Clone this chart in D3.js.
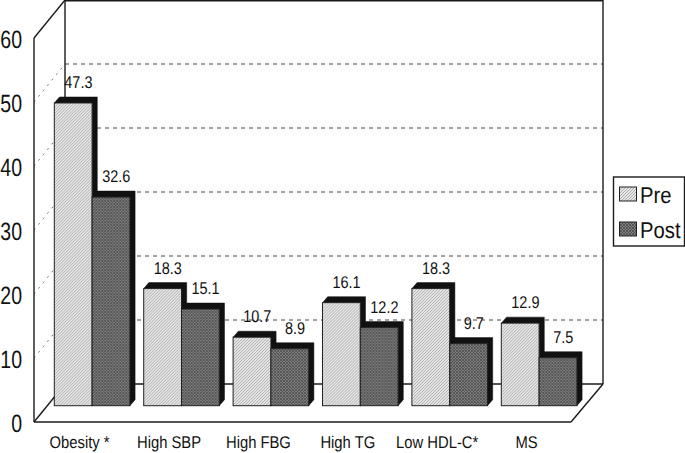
<!DOCTYPE html>
<html><head><meta charset="utf-8">
<script src="https://cdnjs.cloudflare.com/ajax/libs/d3/7.8.5/d3.min.js"></script>
<style>html,body{margin:0;padding:0;background:#fff}svg{display:block}text{font-family:"Liberation Sans",Arial,sans-serif;fill:#111;text-rendering:geometricPrecision}</style>
</head><body><div id="chart"></div>
<script>
const categories = ["Obesity *","High SBP","High FBG","High TG","Low HDL-C*","MS"];
const seriesNames = ["Pre","Post"];
const preValues = [47.3,18.3,10.7,16.1,18.3,12.9];
const postValues = [32.6,15.1,8.9,12.2,9.7,7.5];
const yTicks = [0,10,20,30,40,50,60];

const W=685,H=453;
const svg=d3.select("#chart").append("svg").attr("width",W).attr("height",H);
const defs=svg.append("defs");
const pre=defs.append("pattern").attr("id","pPre").attr("patternUnits","userSpaceOnUse").attr("width",3).attr("height",3);
pre.append("rect").attr("width",3).attr("height",3).attr("fill","#e6e6e6");
pre.append("path").attr("d","M-1,1L1,-1M0,3L3,0M2,4L4,2").attr("stroke","#a8a8a8").attr("stroke-width",0.9);
const post=defs.append("pattern").attr("id","pPost").attr("patternUnits","userSpaceOnUse").attr("width",3).attr("height",3);
post.append("rect").attr("width",3).attr("height",3).attr("fill","#808080");
post.append("path").attr("d","M-1,1L1,-1M0,3L3,0M2,4L4,2M-1,2L1,4M0,0L3,3M2,-1L4,1").attr("stroke","#444").attr("stroke-width",0.7);
const fills=["url(#pPre)","url(#pPost)"];

const front={x0:34,x1:571,y0:422,y1:38}, back={x0:65,x1:603,y0:384,y1:0};
const yFront=d3.scaleLinear().domain([0,60]).range([front.y0,front.y1]);
const yBack=d3.scaleLinear().domain([0,60]).range([back.y0,back.y1]);
const yBar=d3.scaleLinear().domain([0,60]).range([405.7,21.7]);
const xBand=d3.scaleBand().domain(categories).range([47.4,583.8]).paddingInner(0.1544).paddingOuter(0.0772);
const xSeries=d3.scaleBand().domain(seriesNames).range([0,xBand.bandwidth()]);
const depthX=5.2, depthY=6;
const ink="#1a1a1a";

function squeeze(sel,f){sel.each(function(){const n=d3.select(this);const l=this.getComputedTextLength();n.attr("textLength",l*f).attr("lengthAdjust","spacingAndGlyphs");});return sel;}

// walls
const line=(a,b,c,d,w=1.4)=>svg.append("line").attr("x1",a).attr("y1",b).attr("x2",c).attr("y2",d).attr("stroke",ink).attr("stroke-width",w);
yTicks.filter(t=>t>0&&t<60).forEach(t=>{
  svg.append("line").attr("x1",back.x0).attr("x2",back.x1).attr("y1",yBack(t)).attr("y2",yBack(t)).attr("stroke","#444").attr("stroke-width",1).attr("stroke-dasharray","4 4");
  svg.append("line").attr("x1",front.x0).attr("x2",back.x0).attr("y1",yFront(t)).attr("y2",yBack(t)).attr("stroke","#777").attr("stroke-width",1).attr("stroke-dasharray","2 5");
});
line(back.x0,back.y1,back.x0,back.y0);
line(back.x0,back.y1+0.5,back.x1,back.y1+0.5,2);
line(back.x1,back.y1,back.x1,back.y0);
line(back.x0,back.y0,back.x1,back.y0);
line(front.x0,front.y1,front.x0,front.y0);
line(front.x0,front.y1,back.x0,back.y1);
line(front.x0,front.y0,back.x0,back.y0);
line(front.x0,front.y0,front.x1,front.y0);
line(front.x1,front.y0,back.x1,back.y0);

// bars
const rows=categories.map((c,i)=>({c,vals:[preValues[i],postValues[i]]}));
rows.forEach(r=>{
  const g=svg.append("g").attr("transform",`translate(${xBand(r.c)},0)`);
  seriesNames.forEach((s,k)=>{
    const v=r.vals[k], x=xSeries(s), w=xSeries.bandwidth(), yt=yBar(v), yb=yBar(0);
    g.append("path").attr("fill","#111").attr("stroke","#111").attr("stroke-width",0.5)
      .attr("d",`M${x},${yt}L${x+depthX},${yt-depthY}L${x+w+depthX},${yt-depthY}L${x+w+depthX},${yb-depthY}L${x+w},${yb}L${x+w},${yt}Z`);
    g.append("rect").attr("x",x).attr("y",yt).attr("width",w).attr("height",yb-yt).attr("fill",fills[k]).attr("stroke","#222").attr("stroke-width",1);
  });
});
// value labels
rows.forEach(r=>{
  seriesNames.forEach((s,k)=>{
    squeeze(svg.append("text").attr("x",xBand(r.c)+xSeries(s)+xSeries.bandwidth()/2+depthX).attr("y",yBar(r.vals[k])-15)
      .attr("text-anchor","middle").attr("font-size",17).text(r.vals[k].toFixed(1)),0.85);
  });
});
// y axis
const yAxis=svg.append("g").attr("transform","translate(22,0)").call(d3.axisLeft(yFront).tickValues(yTicks).tickSize(0).tickPadding(0).tickFormat(d3.format("d")));
yAxis.select(".domain").remove();
yAxis.selectAll("text").attr("font-size",25).attr("font-family",null).attr("dy","0.38em").call(squeeze,0.78);
// x labels
const xAxis=svg.append("g").attr("transform","translate(-12.5,448)").call(d3.axisBottom(xBand).tickSize(0).tickPadding(0));
xAxis.select(".domain").remove();
xAxis.selectAll("text").attr("font-size",17).attr("font-family",null).attr("dy",0).call(squeeze,0.87);
// legend
const lg=svg.append("g");
lg.append("rect").attr("x",613.5).attr("y",177).attr("width",71).attr("height",69).attr("fill","#fff").attr("stroke",ink).attr("stroke-width",1.4);
seriesNames.forEach((s,k)=>{
  const y=187+k*35;
  lg.append("rect").attr("x",619.5).attr("y",y).attr("width",17).attr("height",14).attr("fill",fills[k]).attr("stroke","#222").attr("stroke-width",1);
  squeeze(lg.append("text").attr("x",640).attr("y",y+15.5).attr("font-size",23).text(s),0.88);
});
</script></body></html>
